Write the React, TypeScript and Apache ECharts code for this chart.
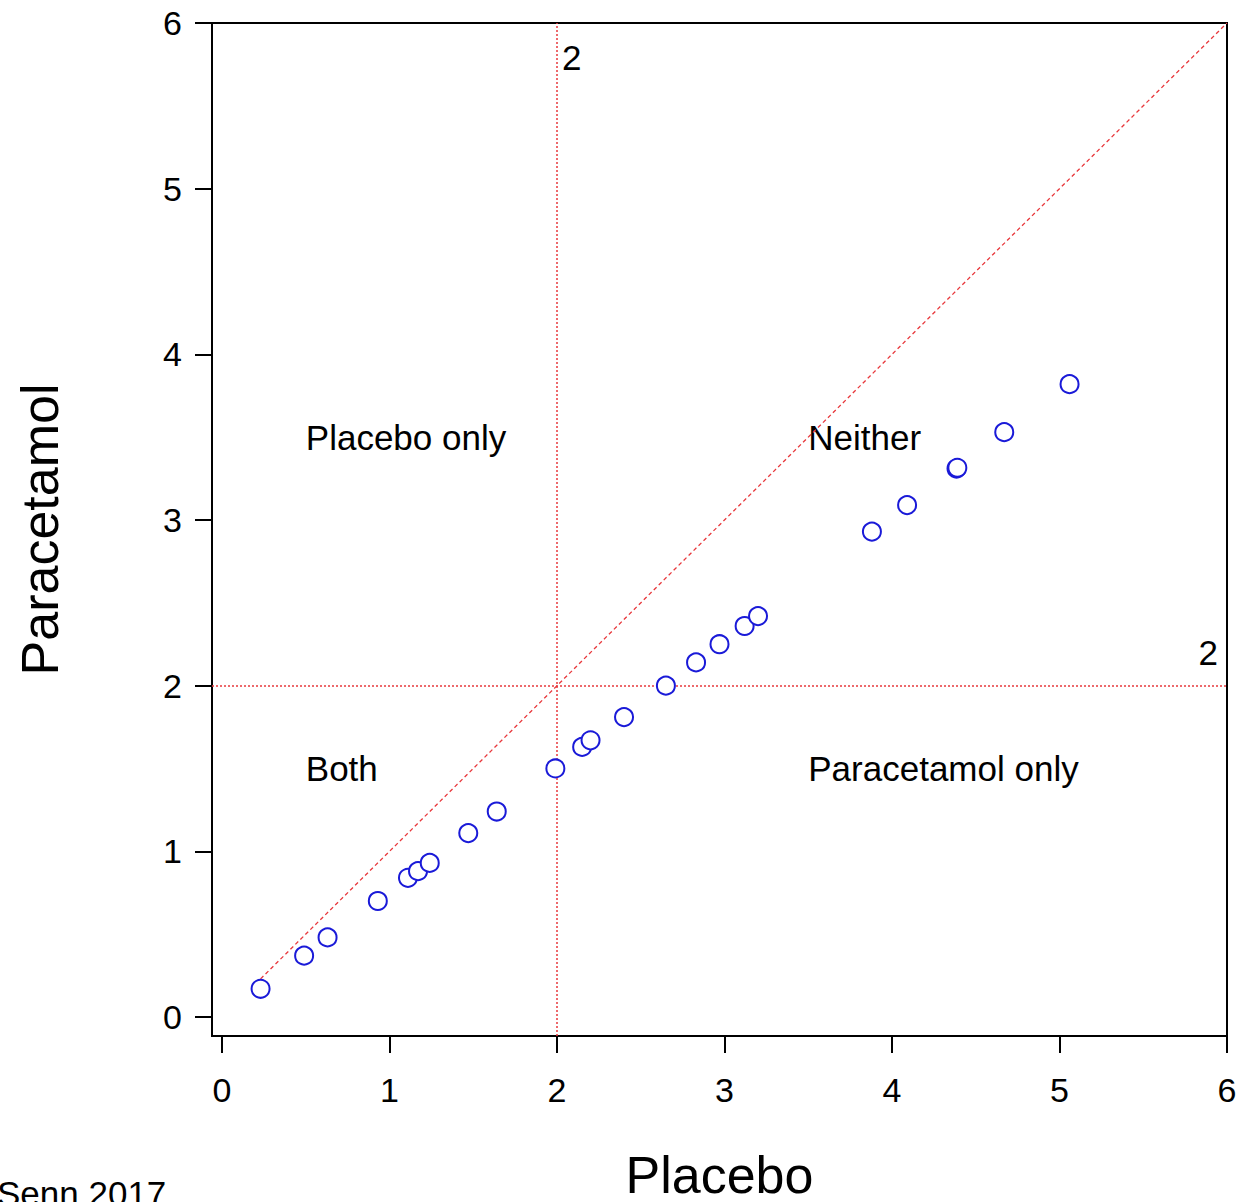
import React, { useEffect, useRef } from "react";
import * as echarts from "echarts";

// Placebo (x) vs Paracetamol (y) values
const placebo = [0.23, 0.49, 0.63, 0.93, 1.11, 1.17, 1.24, 1.47, 1.64, 1.99, 2.15, 2.2, 2.4, 2.65, 2.83, 2.97, 3.12, 3.2, 3.88, 4.09, 4.385, 4.39, 4.67, 5.06];
const paracetamol = [0.17, 0.37, 0.48, 0.7, 0.84, 0.88, 0.93, 1.11, 1.24, 1.5, 1.63, 1.67, 1.81, 2.0, 2.14, 2.25, 2.36, 2.42, 2.93, 3.09, 3.31, 3.315, 3.53, 3.82];

const tickValues = [0, 1, 2, 3, 4, 5, 6];
const cutoff = 2;
const identityLine = [[0.23, 0.23], [6, 6]];

const regionNames = ["Placebo only", "Neither", "Both", "Paracetamol only"];
const regionX = [0.5, 3.5, 0.5, 3.5];
const regionY = [3.5, 3.5, 1.5, 1.5];

const cutoffLabelText = ["2", "2"];
const cutoffLabelX = [2.03, 5.83];
const cutoffLabelY = [5.79, 2.2];

const FONT = "'Liberation Sans', Arial, sans-serif";

export default function App() {
  const ref = useRef<HTMLDivElement>(null);
  useEffect(() => {
    if (!ref.current) return;
    const chart = echarts.init(ref.current, undefined, { renderer: "svg" });
    const red = "#e8383c";
    const blue = "#1a1ad8";
    chart.setOption({
      animation: false,
      backgroundColor: "#ffffff",
      textStyle: { fontFamily: FONT },
      grid: {
        left: 212,
        top: 23,
        right: 14,
        bottom: 166,
        containLabel: false,
        outerBoundsMode: "none",
        show: true,
        borderColor: "#000",
        borderWidth: 2,
        backgroundColor: "transparent",
      },
      xAxis: {
        type: "value",
        min: -0.06,
        max: 6,
        name: "Placebo",
        nameLocation: "middle",
        nameGap: 117,
        nameTextStyle: { fontSize: 52, lineHeight: 44, color: "#000", fontFamily: FONT },
        axisLine: { show: true, onZero: false, lineStyle: { color: "#000", width: 2 } },
        axisTick: { show: true, length: 17, lineStyle: { color: "#000", width: 2 }, customValues: tickValues },
        axisLabel: { show: true, fontSize: 34, color: "#000", margin: 37, fontFamily: FONT, customValues: tickValues },
        splitLine: { show: false },
      },
      yAxis: {
        type: "value",
        min: -0.115,
        max: 6,
        name: "Paracetamol",
        nameLocation: "middle",
        nameGap: 146,
        nameTextStyle: { fontSize: 52, color: "#000", fontFamily: FONT },
        axisLine: { show: true, onZero: false, lineStyle: { color: "#000", width: 2 } },
        axisTick: { show: true, length: 17, lineStyle: { color: "#000", width: 2 }, customValues: tickValues },
        axisLabel: { show: true, fontSize: 34, color: "#000", margin: 30, fontFamily: FONT, customValues: tickValues },
        splitLine: { show: false },
      },
      series: [
        {
          type: "line",
          data: identityLine,
          symbol: "none",
          lineStyle: { color: red, width: 1.3, type: [4, 3] },
          silent: true,
          markLine: {
            symbol: "none",
            silent: true,
            label: { show: false },
            lineStyle: { color: red, width: 1.5, type: [2, 2] },
            data: [{ xAxis: cutoff }, { yAxis: cutoff }],
          },
        },
        {
          type: "scatter",
          data: placebo.map((x, i) => [x, paracetamol[i]]),
          symbol: "emptyCircle",
          symbolSize: 18,
          itemStyle: { color: blue, borderColor: blue, borderWidth: 2.2, opacity: 1 },
          z: 5,
        },
        {
          type: "scatter",
          symbolSize: 0,
          silent: true,
          itemStyle: { opacity: 1 },
          data: regionNames.map((n, i) => ({
            value: [regionX[i], regionY[i]],
            label: { formatter: n },
          })),
          label: {
            show: true,
            position: "right",
            distance: 0,
            fontSize: 35,
            color: "#000",
            opacity: 1,
            fontFamily: FONT,
          },
        },
        {
          type: "scatter",
          symbolSize: 0,
          silent: true,
          itemStyle: { opacity: 1 },
          data: cutoffLabelText.map((t, i) => ({
            value: [cutoffLabelX[i], cutoffLabelY[i]],
            label: { formatter: t },
          })),
          label: {
            show: true,
            position: "right",
            distance: 0,
            fontSize: 35,
            color: "#000",
            opacity: 1,
            fontFamily: FONT,
          },
        },
      ],
      graphic: [
        {
          type: "text",
          left: -3,
          top: 1176,
          style: { text: "Senn 2017", fontSize: 35, fill: "#000", fontFamily: FONT },
        },
      ],
    });
    return () => chart.dispose();
  }, []);
  return (
    <div
      ref={ref}
      style={{ position: "absolute", left: 0, top: 0, width: 1241, height: 1202 }}
    />
  );
}
